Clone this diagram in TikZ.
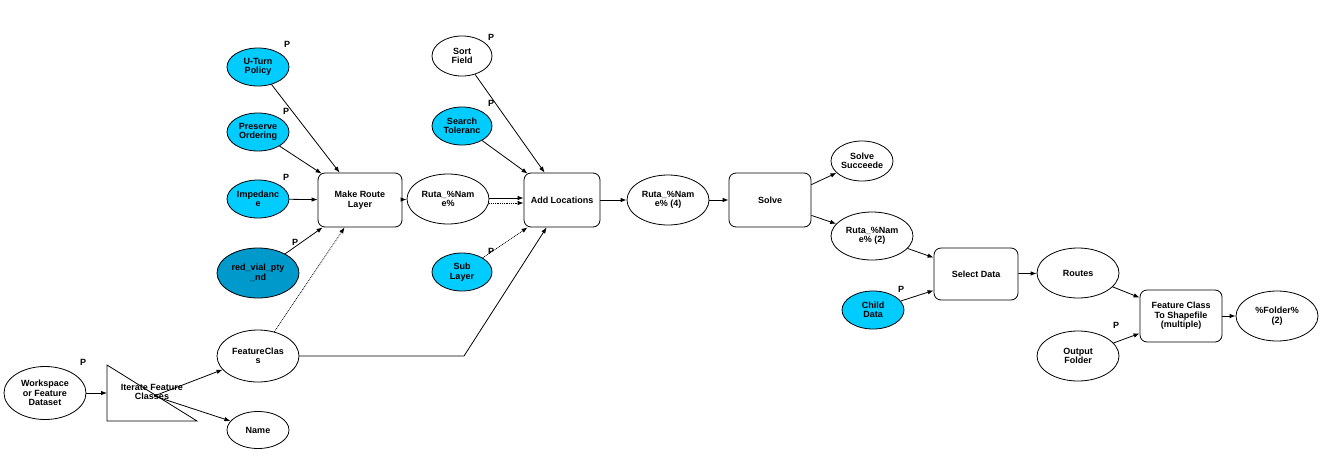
\documentclass[tikz,border=0pt]{standalone}
\usepackage{fontspec}
\setsansfont{Liberation Sans}
\usetikzlibrary{positioning, shapes.geometric, arrows.meta, calc}
\definecolor{param}{HTML}{00CCFF}
\definecolor{netds}{HTML}{0099CC}

\begin{document}
\begin{tikzpicture}[x=1pt, y=-1pt, line width=0.8pt,
  font=\sffamily\bfseries\fontsize{9}{9.5}\selectfont,
  var/.style={draw, ellipse, minimum width=82pt, minimum height=50pt, inner sep=0pt, align=center},
  pvar/.style={var, fill=param, minimum width=62pt, minimum height=38pt},
  tool/.style={draw, rounded corners=7pt, minimum width=84pt, minimum height=54pt, inner sep=0pt, align=center},
  plab/.style={inner sep=0pt},
  arr/.style={-{Latex[length=6pt, width=4.5pt]}},
  dots/.style={arr, densely dotted}
]
  \useasboundingbox (0,0) rectangle (1332,458);

  % inputs of Make Route Layer
  \node[pvar] (uturn) at (258,67) {U-Turn\\Policy};
  \node[pvar] (pres) at (258,132) {Preserve\\Ordering};
  \node[pvar] (imp) at (258,199) {Impedanc\\e};
  \node[var, fill=netds] (rvial) at (258,273) {red\_vial\_pty\\\_nd};
  \node[tool] (mrl) at (360,200) {Make Route\\Layer};
  \node[var] (rut) at (448,199) {Ruta\_\%Nam\\e\%};

  % Add Locations
  \node[var, minimum width=60pt, minimum height=40pt] (sort) at (462,56) {Sort\\Field};
  \node[pvar, minimum width=60pt] (srch) at (462,126) {Search\\Toleranc};
  \node[pvar, minimum width=60pt] (sub) at (462,272) {Sub\\Layer};
  \node[tool, minimum width=76pt] (addl) at (562,200) {Add Locations};
  \node[var] (rut4) at (668,200) {Ruta\_\%Nam\\e\% (4)};

  % Solve and outputs
  \node[tool, minimum width=82pt] (solve) at (770,200) {Solve};
  \node[var, minimum width=62pt, minimum height=40pt] (succ) at (862,161) {Solve\\Succeede};
  \node[var, minimum height=48pt] (rut2) at (872,236) {Ruta\_\%Nam\\e\% (2)};
  \node[pvar] (child) at (873,310) {Child\\Data};
  \node[tool, minimum height=52pt] (sel) at (976,274) {Select Data};
  \node[var] (routes) at (1078,273) {Routes};
  \node[var] (outf) at (1078,356) {Output\\Folder};
  \node[tool, minimum width=82pt, minimum height=52pt] (fcs) at (1181,316) {Feature Class\\To Shapefile\\(multiple)};
  \node[var] (fold) at (1277,316) {\%Folder\%\\(2)};

  % iterator
  \node[var, minimum width=82pt, minimum height=53pt] (ws) at (45,393) {Workspace\\or Feature\\Dataset};
  \draw (107,365) -- (197,421) -- (107,421) -- cycle;
  \coordinate (itin) at (107,393);
  \node[align=center, inner sep=0pt] (iter) at (152,392) {Iterate Feature\\Classes};
  \node[var, minimum height=52pt] (fc) at (258,356) {FeatureClas\\s};
  \node[var, minimum width=62pt, minimum height=37pt] (name) at (258,430) {Name};
  \coordinate (bend) at (464,356);

  % P marks
  \node[plab] (pUturn) at (287,44) {P};
  \node[plab] (pPres) at (286,111) {P};
  \node[plab] (pImp) at (286,177) {P};
  \node[plab] (pVial) at (295,242) {P};
  \node[plab] (pSort) at (491,37) {P};
  \node[plab] (pSrch) at (491,103) {P};
  \node[plab] (pSub) at (491,251) {P};
  \node[plab] (pChild) at (901,289) {P};
  \node[plab] (pOut) at (1116,325) {P};
  \node[plab] (pWs) at (83,362) {P};

  % connectors
  \foreach \a/\b in {imp/mrl, mrl/rut, addl/rut4, rut4/solve, sel/routes, fcs/fold}
    \draw[arr] (\a) -- (\b);
  \draw[arr] (uturn) -- ($(mrl.north west)+(22,0)$);
  \draw[arr] (pres) -- ($(mrl.north west)+(4,1)$);
  \draw[arr] (rvial) -- ($(mrl.south west)+(5,0)$);
  \draw[dots] (fc) -- ($(mrl.south west)+(27,0)$);
  \draw[arr] (sort) -- ($(addl.north west)+(21,0)$);
  \draw[arr] (srch) -- ($(addl.north west)+(4,1)$);
  \draw[arr] ($(rut.east)+(0,-1)$) -- ($(addl.west)+(0,-2)$);
  \draw[dots] ($(rut.east)+(0,4)$) -- ($(addl.west)+(0,3)$);
  \draw[dots] (sub) -- ($(addl.south west)+(4,0)$);
  \draw[arr] (fc.east) -- (bend) -- ($(addl.south west)+(23,0)$);
  \draw[arr] ($(solve.north east)+(0,12)$) -- (succ);
  \draw[arr] ($(solve.south east)+(0,-12)$) -- (rut2);
  \draw[arr] (rut2) -- ($(sel.north west)+(0,10)$);
  \draw[arr] (child) -- ($(sel.south west)+(0,-10)$);
  \draw[arr] (routes) -- ($(fcs.north west)+(0,8)$);
  \draw[arr] (outf) -- ($(fcs.south west)+(0,-9)$);
  \draw[arr] (ws.east) -- (itin);
  \draw[arr] ($(iter.center)+(2,4)$) -- (fc);
  \draw[arr] ($(iter.center)+(2,4)$) -- (name);
\end{tikzpicture}
\end{document}
